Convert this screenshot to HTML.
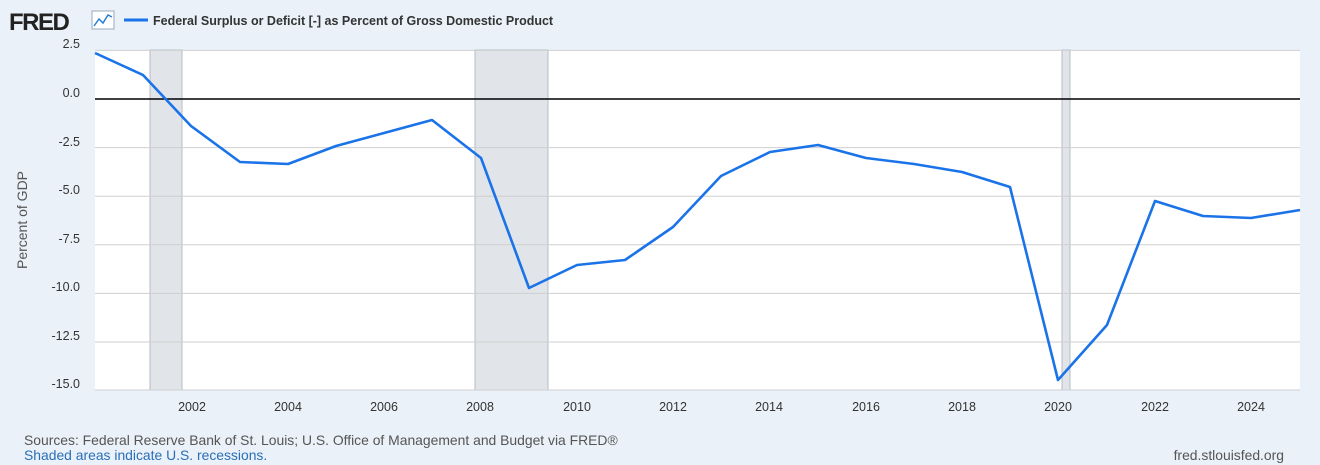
<!DOCTYPE html>
<html><head><meta charset="utf-8"><style>
html,body{margin:0;padding:0;}
body{width:1320px;height:465px;background:#eaf1f8;font-family:"Liberation Sans",sans-serif;position:relative;overflow:hidden;}
</style></head><body>
<svg width="1320" height="465" xmlns="http://www.w3.org/2000/svg" style="position:absolute;left:0;top:0">
<text x="9" y="30" font-family="Liberation Sans" font-weight="bold" font-size="24" fill="#222" letter-spacing="-1.5">FRED</text>
<rect x="92" y="11" width="22" height="18" fill="#fff" stroke="#9ab" stroke-width="1"/>
<polyline points="94,26 99,19 103,23 108,15 112,17" fill="none" stroke="#2a7fd4" stroke-width="1.5"/>
<line x1="124" y1="20" x2="148" y2="20" stroke="#1a73e8" stroke-width="3"/>
<text x="153" y="25" font-size="12.5" font-weight="bold" fill="#333">Federal Surplus or Deficit [-] as Percent of Gross Domestic Product</text>
<rect x="95" y="50" width="1205" height="340" fill="#fff"/>
<rect x="150" y="50" width="32" height="340" fill="#e1e5ea" stroke="#a9b0b8" stroke-width="0.8"/>
<rect x="475" y="50" width="73" height="340" fill="#e1e5ea" stroke="#a9b0b8" stroke-width="0.8"/>
<rect x="1062" y="50" width="8" height="340" fill="#e1e5ea" stroke="#a9b0b8" stroke-width="0.8"/>
<g stroke="#cfcfcf" stroke-width="1">
<line x1="95" y1="50.4" x2="1300" y2="50.4"/><line x1="95" y1="147.6" x2="1300" y2="147.6"/>
<line x1="95" y1="196.2" x2="1300" y2="196.2"/><line x1="95" y1="244.8" x2="1300" y2="244.8"/>
<line x1="95" y1="293.4" x2="1300" y2="293.4"/><line x1="95" y1="342" x2="1300" y2="342"/>
<line x1="95" y1="390" x2="1300" y2="390"/>
</g>
<line x1="95" y1="99" x2="1300" y2="99" stroke="#000" stroke-width="1.5"/>
<g font-size="12.5" fill="#333" text-anchor="end">
<text x="80" y="48">2.5</text><text x="80" y="97">0.0</text><text x="80" y="146">-2.5</text>
<text x="80" y="194">-5.0</text><text x="80" y="243">-7.5</text><text x="80" y="291">-10.0</text>
<text x="80" y="340">-12.5</text><text x="80" y="388">-15.0</text>
</g>
<g font-size="12.5" fill="#333" text-anchor="middle">
<text x="192" y="411">2002</text><text x="288" y="411">2004</text><text x="384" y="411">2006</text>
<text x="480" y="411">2008</text><text x="577" y="411">2010</text><text x="673" y="411">2012</text>
<text x="769" y="411">2014</text><text x="866" y="411">2016</text><text x="962" y="411">2018</text>
<text x="1058" y="411">2020</text><text x="1155" y="411">2022</text><text x="1251" y="411">2024</text>
</g>
<text transform="translate(27,220) rotate(-90)" font-size="14" fill="#555" text-anchor="middle">Percent of GDP</text>
<polyline fill="none" stroke="#1a73e8" stroke-width="2.6" stroke-linejoin="round" points="95,53 143,75 191,126 240,162 288,164 336,146 384,133 432,120 481,158 529,288 577,265 625,260 673,227 721,176 770,152 818,145 866,158 914,164 962,172 1010,187 1058,380 1107,325 1155,201 1203,216 1251,218 1300,210"/>
<text x="24" y="445" font-size="13.9" fill="#555">Sources: Federal Reserve Bank of St. Louis; U.S. Office of Management and Budget via FRED®</text>
<text x="24" y="460" font-size="13.9" fill="#2a6fb8">Shaded areas indicate U.S. recessions.</text>
<text x="1284" y="460" font-size="13.9" fill="#555" text-anchor="end">fred.stlouisfed.org</text>
</svg>
</body></html>
